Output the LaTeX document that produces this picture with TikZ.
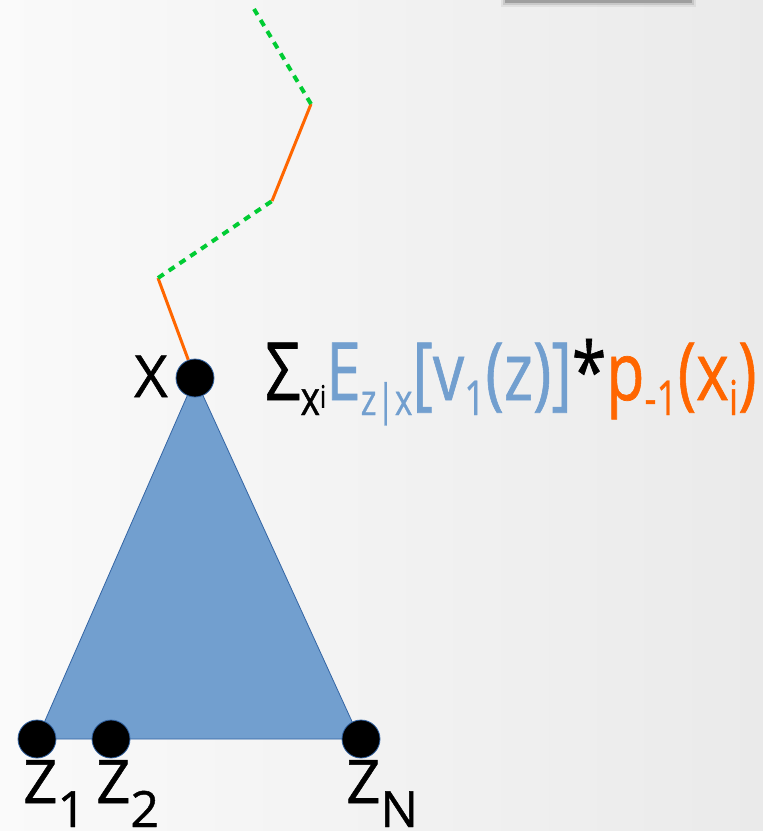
\documentclass[tikz,border=0pt]{standalone}
\usepackage{fontspec}
\setmainfont{Open Sans}[FakeBold=0.9]
\definecolor{tblue}{HTML}{729FCF}
\definecolor{tborder}{HTML}{3465A4}
\definecolor{torange}{HTML}{FF6600}
\definecolor{tgreen}{HTML}{00CC33}
\definecolor{bgleft}{RGB}{250,250,250}
\definecolor{bgright}{RGB}{234,234,234}
\newcommand{\fsz}[1]{\fontsize{#1}{#1}\selectfont}
\tikzset{
  dot/.style={circle, fill=black, draw=tborder, line width=0.8pt, minimum size=38pt, inner sep=0},
  lbl/.style={anchor=base west, inner sep=0},
  orangeseg/.style={draw=torange, line width=3pt},
  greenseg/.style={draw=tgreen, line width=4pt, dash pattern=on 7pt off 6pt},
}
\begin{document}
\begin{tikzpicture}[x=1pt,y=-1pt]
\useasboundingbox (0,0) rectangle (763,831);
\shade[left color=bgleft, right color=bgright] (0,0) rectangle (763,831);
% top bar with shadow
\fill[black, opacity=0.06] (501,0) rectangle (696,7);
\fill[black, opacity=0.10] (503,0) rectangle (694,5);
\fill[gray!75] (505,0) rectangle (692,3);
% triangle
\coordinate (ta) at (195,378);
\coordinate (tl) at (37,739);
\coordinate (tr) at (360,739);
\filldraw[fill=tblue, draw=tborder, line width=0.8pt] (ta) -- (tl) -- (tr) -- cycle;
% dots
\node[dot] (x) at (195,378) {};
\node[dot] (z1) at (37,739) {};
\node[dot] (z2) at (111,739) {};
\node[dot] (zn) at (361,739) {};
% path
\coordinate (p1) at (158,278);
\coordinate (p2) at (272,201);
\coordinate (p3) at (311,104);
\coordinate (p4) at (254,9);
\draw[orangeseg] (x) -- (p1);
\draw[greenseg] (p1) -- (p2);
\draw[orangeseg] (p2) -- (p3);
\draw[greenseg] (p3) -- (p4);
% labels
\node[lbl] (xl) at (134,397) {\fsz{58}X};
\node[lbl] (z1l) at (23,803) {\fsz{60}Z\raisebox{-24pt}{\fsz{50}1}};
\node[lbl] (z2l) at (96,803) {\fsz{60}Z\raisebox{-24pt}{\fsz{50}2}};
\node[lbl] (znl) at (346,803) {\fsz{60}Z\raisebox{-24pt}{\fsz{50}N}};
\node[lbl] (formula) at (265,400) {\scalebox{0.93}[1.2]{\fsz{67}Σ\raisebox{-12.5pt}{\fsz{40}x\raisebox{6pt}{\fsz{26}i}}\textcolor{tblue}{\fsz{67}E\raisebox{-12.5pt}{\fsz{36}z|x}[v\raisebox{-12.5pt}{\fsz{40}1}(z)]}{\fsz{67}*}\textcolor{torange}{\fsz{67}p\raisebox{-12.5pt}{\fsz{40}-1}(x\raisebox{-12.5pt}{\fsz{40}i})}}};
\end{tikzpicture}
\end{document}
